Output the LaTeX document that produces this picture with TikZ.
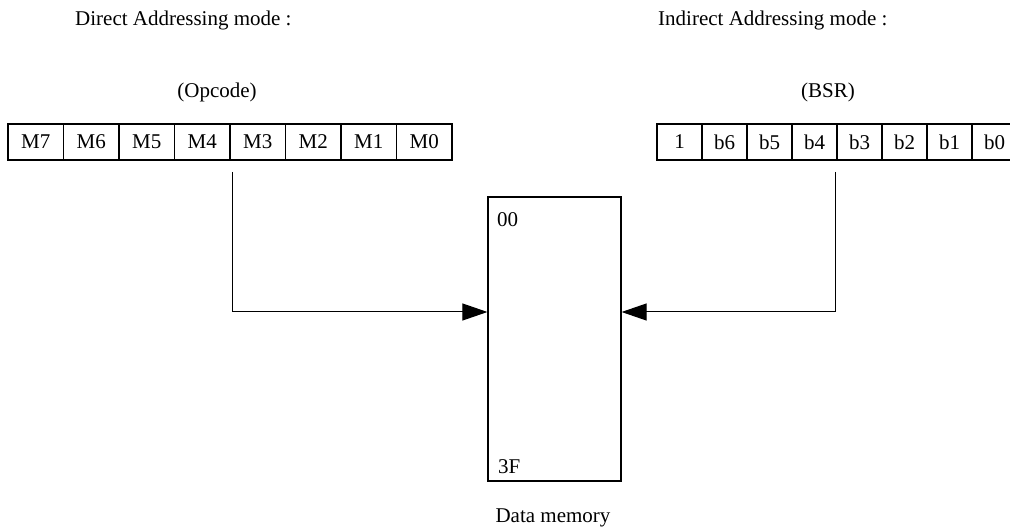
\documentclass[tikz,border=0pt]{standalone}
\usepackage{fontspec}
\setmainfont{Liberation Serif}
\usetikzlibrary{arrows.meta}
\begin{document}
\begin{tikzpicture}[x=1pt,y=-1pt,
  txt/.style={font=\fontsize{21}{25}\selectfont,inner sep=0pt},
  cell/.style={txt,draw,line width=1.2pt,minimum height=36pt},
  lcell/.style={cell,minimum width=55.5pt},
  rcell/.style={cell,minimum width=45pt},
  membox/.style={draw,line width=1.2pt,minimum width=133pt,minimum height=284pt,inner sep=0pt},
  conn/.style={line width=1pt,-{Triangle[length=25pt,width=17pt]}}]
\useasboundingbox (0,0) rectangle (1010,529);
% titles
\node[txt,anchor=west] (t1) at (75,20) {Direct Addressing mode :};
\node[txt,anchor=west] (t2) at (658,20) {Indirect Addressing mode :};
\node[txt] (op) at (217,92) {(Opcode)};
\node[txt] (bsr) at (828,92) {(BSR)};
% left register
\foreach \t [count=\i from 0] in {M7,M6,M5,M4,M3,M2,M1,M0}
  \node[lcell] (l\i) at ({35.75+55.5*\i},142) {\t};
% right register
\foreach \t [count=\i from 0] in {1,b6,b5,b4,b3,b2,b1,b0}
  \node[rcell] (r\i) at ({679.5+45*\i},142) {\t};
% memory
\node[membox] (mem) at (554.5,339) {};
\node[txt,anchor=west] (a00) at (497,220) {00};
\node[txt,anchor=west] (a3f) at (498,467) {3F};
\node[txt] (dm) at (553,518) {Data memory};
% connectors
\coordinate (ls) at (232,172);
\coordinate (rs) at (835,172);
\coordinate (ay) at (0,312);
\draw[conn] (ls) |- (ay -| mem.west);
\draw[conn] (rs) |- (ay -| mem.east);
\end{tikzpicture}
\end{document}
